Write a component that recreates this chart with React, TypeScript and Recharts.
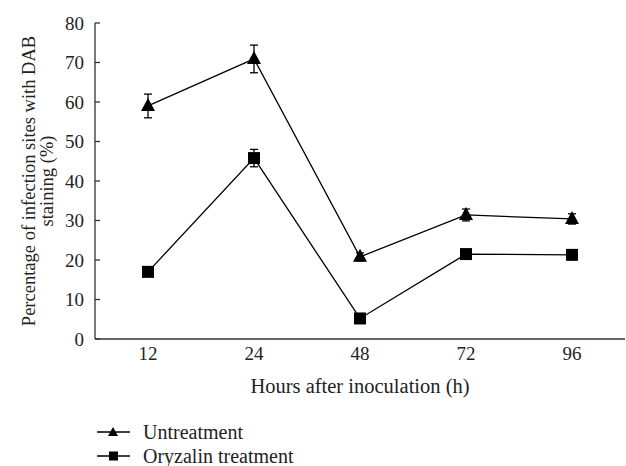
import { LineChart, Line, XAxis, YAxis, ErrorBar, Legend } from 'recharts';

const categories = ['12', '24', '48', '72', '96'];
const untreatment = [59, 70.9, 20.8, 31.4, 30.4];
const untreatmentErr = [3, 3.5, 1, 1.5, 1.3];
const oryzalin = [17, 45.8, 5.2, 21.5, 21.3];
const oryzalinErr = [0.6, 2.2, 0.5, 0.6, 0.5];
const yTicks = [0, 10, 20, 30, 40, 50, 60, 70, 80];
const bandEdges = [1, 2, 3, 4, 5];

const data = categories.map((c, i) => ({
  x: i + 0.5,
  label: c,
  u: untreatment[i],
  uErr: untreatmentErr[i],
  o: oryzalin[i],
  oErr: oryzalinErr[i],
}));

const FONT = "'Liberation Serif', 'DejaVu Serif', serif";

const Triangle = (props: any) => {
  const { cx, cy } = props;
  if (cx == null || cy == null) return null;
  return <path d={`M${cx},${cy - 8} L${cx + 7},${cy + 5} L${cx - 7},${cy + 5} Z`} fill="#000" />;
};

const Square = (props: any) => {
  const { cx, cy } = props;
  if (cx == null || cy == null) return null;
  return <rect x={cx - 6} y={cy - 6} width={12} height={12} fill="#000" />;
};

const YLabel = (props: any) => {
  const vb = props.viewBox || { x: 0, y: 0, height: 0 };
  const cy = vb.y + vb.height / 2;
  return (
    <g>
      <text x={29} y={cy} transform={`rotate(-90 29 ${cy})`} textAnchor="middle" dominantBaseline="central"
        style={{ fontFamily: FONT, fontSize: 18.5 }} fill="#222">
        Percentage of infection sites with DAB
      </text>
      <text x={47} y={cy} transform={`rotate(-90 47 ${cy})`} textAnchor="middle" dominantBaseline="central"
        style={{ fontFamily: FONT, fontSize: 18.5 }} fill="#222">
        staining (%)
      </text>
    </g>
  );
};

const LegendContent = () => {
  const items = [
    { name: 'Untreatment', kind: 'tri' },
    { name: 'Oryzalin treatment', kind: 'sq' },
  ];
  return (
    <div style={{ fontFamily: FONT, fontSize: 20, color: '#222' }}>
      {items.map((it) => (
        <div key={it.name} style={{ display: 'flex', alignItems: 'center', height: 24 }}>
          <svg width={34} height={14} style={{ marginRight: 12 }}>
            <line x1={0} y1={7} x2={33} y2={7} stroke="#000" strokeWidth={1.3} />
            {it.kind === 'tri' ? (
              <path d="M16,2 L21,11 L11,11 Z" fill="#000" />
            ) : (
              <rect x={12} y={2.5} width={9} height={9} fill="#000" />
            )}
          </svg>
          <span>{it.name}</span>
        </div>
      ))}
    </div>
  );
};

const tickStyle = { fontFamily: FONT, fontSize: 19, fill: '#222' };

export default function App() {
  return (
    <div style={{ position: 'absolute', left: 0, top: 0, width: 626, height: 466, background: '#fff', fontFamily: FONT }}>
      <LineChart width={626} height={466} data={data} style={{ fontFamily: FONT }}
        margin={{ top: 23, right: 1, left: 0, bottom: 52 }}>
        <XAxis xAxisId="edges" dataKey="x" type="number" domain={[0, 5]} ticks={bandEdges} tick={false}
          tickSize={-6} axisLine={false} tickLine={{ stroke: '#333', strokeWidth: 1.3 }} height={1} />
        <XAxis dataKey="x" type="number" domain={[0, 5]} ticks={data.map((d) => d.x)}
          tickFormatter={(v: number) => categories[Math.round(v - 0.5)]}
          tickLine={false} axisLine={{ stroke: '#333', strokeWidth: 1.3 }}
          tick={{ ...tickStyle, style: tickStyle }} tickMargin={2} height={26}
          label={{ value: 'Hours after inoculation (h)', position: 'insideBottom', offset: -28,
            style: { fontFamily: FONT, fontSize: 20.5, fill: '#222' } }} />
        <YAxis domain={[0, 80]} ticks={yTicks} width={95} tickSize={-5} tickMargin={16}
          axisLine={{ stroke: '#333', strokeWidth: 1.3 }} tickLine={{ stroke: '#333', strokeWidth: 1.3 }}
          tick={{ ...tickStyle, style: tickStyle }} interval={0}
          label={<YLabel />} />
        <Legend verticalAlign="bottom" align="left" content={<LegendContent />}
          wrapperStyle={{ position: 'absolute', left: 97, top: 420, width: 300, height: 48 }} />
        <Line dataKey="u" xAxisId={0} stroke="#000" strokeWidth={1.3} dot={<Triangle />} isAnimationActive={false}>
          <ErrorBar dataKey="uErr" width={4} stroke="#000" strokeWidth={1.3} isAnimationActive={false} />
        </Line>
        <Line dataKey="o" xAxisId={0} stroke="#000" strokeWidth={1.3} dot={<Square />} isAnimationActive={false}>
          <ErrorBar dataKey="oErr" width={4} stroke="#000" strokeWidth={1.3} isAnimationActive={false} />
        </Line>
      </LineChart>
    </div>
  );
}
